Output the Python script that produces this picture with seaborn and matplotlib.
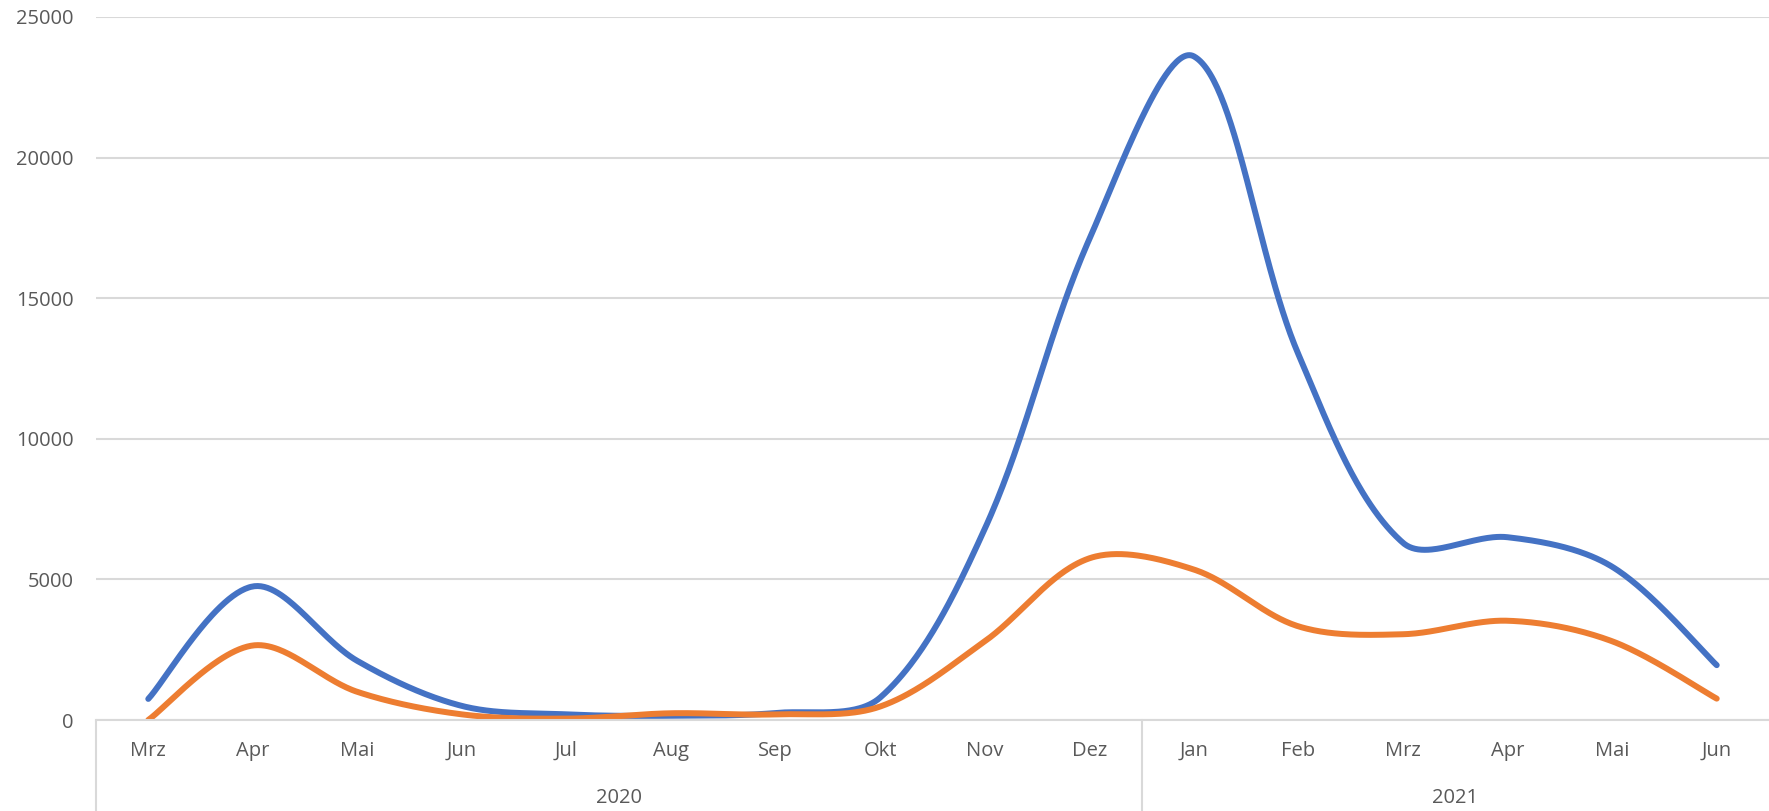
import numpy as np
import pandas as pd
import matplotlib
matplotlib.use("Agg")
import matplotlib.pyplot as plt
import matplotlib.transforms as mtransforms
import seaborn as sns

months = ["Mrz", "Apr", "Mai", "Jun", "Jul", "Aug", "Sep", "Okt", "Nov", "Dez",
          "Jan", "Feb", "Mrz", "Apr", "Mai", "Jun"]
years = ["2020", "2021"]
year_counts = [10, 6]
series_blue = [750, 4750, 2100, 500, 200, 150, 250, 800, 6800, 17100,
               23600, 13000, 6300, 6500, 5450, 1950]
series_orange = [0, 2650, 1000, 200, 50, 240, 200, 480, 2800, 5750,
                 5350, 3330, 3050, 3530, 2800, 760]
yticks = [0, 5000, 10000, 15000, 20000, 25000]

BLUE = "#4472C4"
ORANGE = "#ED7D31"
TEXT = "#595959"
GRID = "#D9D9D9"

# pixel scale factors (for distance-weighted smoothing, like Excel)
PX_PER_CAT = 104.6
PX_PER_UNIT = 703.0 / 25000.0


def excel_smooth(y, n=60):
    y = np.asarray(y, dtype=float)
    x = np.arange(len(y), dtype=float)
    P = np.column_stack([x * PX_PER_CAT, y * PX_PER_UNIT])
    m = len(P)
    d = np.linalg.norm(np.diff(P, axis=0), axis=1)
    c_out = np.zeros_like(P)
    c_in = np.zeros_like(P)
    for i in range(m):
        prev = P[i - 1] if i > 0 else P[i]
        nxt = P[i + 1] if i < m - 1 else P[i]
        T = nxt - prev
        dl = d[i - 1] if i > 0 else 0.0
        dr = d[i] if i < m - 1 else 0.0
        tot = dl + dr
        if i == 0 or i == m - 1:
            c_out[i] = P[i] + T / 6.0
            c_in[i] = P[i] - T / 6.0
        else:
            c_out[i] = P[i] + T * (dr / tot) / 3.0
            c_in[i] = P[i] - T * (dl / tot) / 3.0
    t = np.linspace(0, 1, n)[:, None]
    out = []
    for i in range(m - 1):
        p0, c1, c2, p3 = P[i], c_out[i], c_in[i + 1], P[i + 1]
        seg = ((1 - t) ** 3) * p0 + 3 * ((1 - t) ** 2) * t * c1 + 3 * (1 - t) * t ** 2 * c2 + t ** 3 * p3
        out.append(seg if i == 0 else seg[1:])
    arr = np.vstack(out)
    return arr[:, 0] / PX_PER_CAT, arr[:, 1] / PX_PER_UNIT


sns.set_theme(style="white")
plt.rcParams["font.family"] = ["Open Sans", "DejaVu Sans"]

fig = plt.figure(figsize=(17.69, 8.11), dpi=100)
ax = fig.add_axes([96 / 1769, 1 - 720 / 811, 1 - 96 / 1769, (720 - 17) / 811])

for vals, col in [(series_blue, BLUE), (series_orange, ORANGE)]:
    xs, ys = excel_smooth(vals)
    df = pd.DataFrame({"x": xs, "y": ys})
    sns.lineplot(data=df, x="x", y="y", color=col, linewidth=4.3, sort=False,
                 estimator=None, ax=ax, solid_capstyle="round")

ax.set_xlim(-0.5, len(months) - 0.5)
ax.set_ylim(0, 25000)
ax.set_yticks(yticks)
ax.set_yticklabels([str(v) for v in yticks])
ax.yaxis.grid(True, color=GRID, linewidth=1.5)
ax.set_axisbelow(True)
for s in ["top", "right", "left"]:
    ax.spines[s].set_visible(False)
ax.spines["bottom"].set_color(GRID)
ax.spines["bottom"].set_linewidth(1.5)
ax.tick_params(axis="y", length=0, pad=16, labelsize=14.5, labelcolor=TEXT)
ax.set_xticks(np.arange(len(months)))
ax.set_xticklabels(months)
ax.tick_params(axis="x", length=0, pad=15, labelsize=14.5, labelcolor=TEXT)
ax.set_xlabel("")
ax.set_ylabel("")

trans = mtransforms.blended_transform_factory(ax.transData, ax.transAxes)
bounds = np.concatenate([[0], np.cumsum(year_counts)]) - 0.5
for b in bounds[:-1]:
    ax.plot([b, b], [0, -0.1294], transform=trans, color=GRID, linewidth=1.5,
            clip_on=False)
for i, yr in enumerate(years):
    cx = (bounds[i] + bounds[i + 1]) / 2
    ax.text(cx, -0.111, yr, transform=trans, ha="center", va="center",
            fontsize=14.5, color=TEXT)

fig.savefig("out.png", dpi=100)
